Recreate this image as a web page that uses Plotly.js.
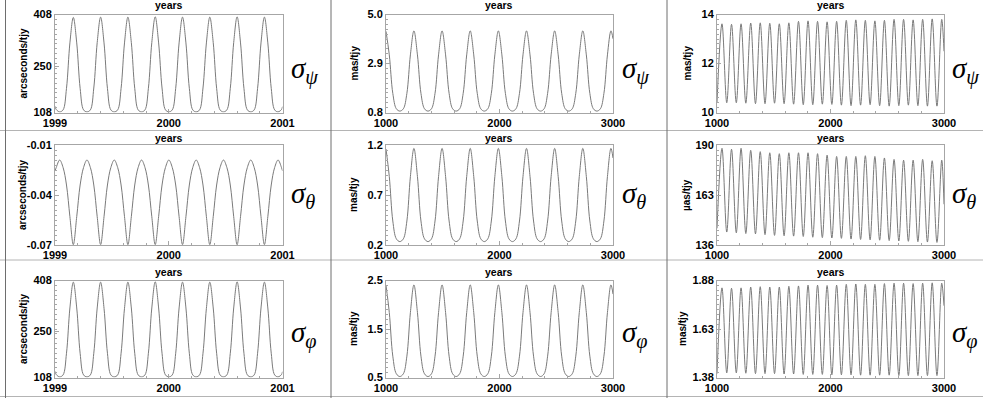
<!DOCTYPE html>
<html>
<head>
<meta charset="utf-8">
<script src="https://cdn.plot.ly/plotly-3.0.1.min.js"></script>
<style>
html,body{margin:0;padding:0;background:#fff;}
#chart{width:983px;height:398px;}
</style>
</head>
<body>
<div id="chart"></div>
<script>
// ---------- Left column: 1999 - 2001 ----------
const yearsL = [1999.000, 1999.011, 1999.041,
  1999.071, 1999.101, 1999.131, 1999.161, 1999.191, 1999.221, 1999.251, 1999.281,
  1999.311, 1999.341, 1999.371, 1999.401, 1999.431, 1999.461, 1999.491, 1999.521,
  1999.551, 1999.581, 1999.611, 1999.641, 1999.671, 1999.701, 1999.731, 1999.761,
  1999.791, 1999.821, 1999.851, 1999.881, 1999.911, 1999.941, 1999.971, 2000.001,
  2000.031, 2000.061, 2000.091, 2000.121, 2000.151, 2000.181, 2000.211, 2000.241,
  2000.271, 2000.301, 2000.331, 2000.361, 2000.391, 2000.421, 2000.451, 2000.481,
  2000.511, 2000.541, 2000.571, 2000.601, 2000.631, 2000.661, 2000.691, 2000.721,
  2000.751, 2000.781, 2000.811, 2000.841, 2000.871, 2000.901, 2000.931, 2000.961,
  2000.991, 2001.000];
const psiL = [127, 117, 110,
  116, 182, 321, 399, 321, 182, 116, 110,
  116, 183, 322, 400, 321, 182, 116, 110,
  116, 182, 321, 400, 322, 182, 116, 110,
  116, 182, 322, 401, 321, 183, 116, 110,
  116, 182, 321, 400, 321, 182, 116, 110,
  116, 183, 321, 400, 322, 182, 116, 110,
  116, 182, 322, 401, 321, 182, 116, 110,
  116, 182, 321, 400, 321, 182, 116, 110,
  117, 126];
const thetaL = [-0.0255, -0.0235, -0.0190,
  -0.0235, -0.0340, -0.0530, -0.0698, -0.0530, -0.0340, -0.0235, -0.0190,
  -0.0235, -0.0340, -0.0530, -0.0698, -0.0530, -0.0340, -0.0235, -0.0190,
  -0.0235, -0.0340, -0.0530, -0.0698, -0.0530, -0.0340, -0.0235, -0.0190,
  -0.0235, -0.0340, -0.0530, -0.0698, -0.0530, -0.0340, -0.0235, -0.0190,
  -0.0235, -0.0340, -0.0530, -0.0698, -0.0530, -0.0340, -0.0235, -0.0190,
  -0.0235, -0.0340, -0.0530, -0.0698, -0.0530, -0.0340, -0.0235, -0.0190,
  -0.0235, -0.0340, -0.0530, -0.0698, -0.0530, -0.0340, -0.0235, -0.0190,
  -0.0235, -0.0340, -0.0530, -0.0698, -0.0530, -0.0340, -0.0235, -0.0190,
  -0.0235, -0.0255];
const phiL = [127, 117, 110,
  116, 183, 323, 403, 323, 183, 116, 110,
  116, 183, 323, 403, 322, 183, 116, 110,
  116, 183, 322, 403, 323, 183, 116, 110,
  116, 183, 323, 404, 323, 183, 116, 110,
  116, 183, 323, 403, 323, 183, 116, 110,
  116, 183, 322, 403, 323, 183, 116, 110,
  116, 183, 323, 404, 323, 183, 116, 110,
  116, 183, 323, 403, 323, 183, 116, 110,
  117, 126];

// ---------- Middle column: 1000 - 3000 ----------
const yearsM = [1000,
  1029, 1060, 1091, 1122, 1153, 1184, 1215, 1246,
  1277, 1308, 1339, 1370, 1401, 1432, 1463, 1494,
  1525, 1556, 1587, 1618, 1649, 1680, 1711, 1742,
  1773, 1804, 1835, 1866, 1897, 1928, 1959, 1990,
  2021, 2052, 2083, 2114, 2145, 2176, 2207, 2238,
  2269, 2300, 2331, 2362, 2393, 2424, 2455, 2486,
  2517, 2548, 2579, 2610, 2641, 2672, 2703, 2734,
  2765, 2796, 2827, 2858, 2889, 2920, 2951, 2982,
  3000];
const psiM = [4.28,
  3.27, 1.62, 0.96, 0.86, 0.96, 1.62, 3.27, 4.30,
  3.27, 1.62, 0.96, 0.86, 0.96, 1.62, 3.27, 4.30,
  3.27, 1.62, 0.96, 0.86, 0.96, 1.62, 3.27, 4.30,
  3.27, 1.62, 0.96, 0.86, 0.96, 1.62, 3.27, 4.30,
  3.27, 1.62, 0.96, 0.86, 0.96, 1.62, 3.27, 4.30,
  3.27, 1.62, 0.96, 0.86, 0.96, 1.62, 3.27, 4.30,
  3.27, 1.62, 0.96, 0.86, 0.96, 1.62, 3.27, 4.30,
  3.27, 1.62, 0.96, 0.86, 0.96, 1.62, 3.27, 4.30,
  3.96];
const thetaM = [1.16,
  0.885, 0.440, 0.262, 0.234, 0.262, 0.440, 0.885, 1.166,
  0.885, 0.440, 0.262, 0.234, 0.262, 0.440, 0.885, 1.166,
  0.885, 0.440, 0.262, 0.234, 0.262, 0.440, 0.885, 1.166,
  0.885, 0.440, 0.262, 0.234, 0.262, 0.440, 0.885, 1.166,
  0.885, 0.440, 0.262, 0.234, 0.262, 0.440, 0.885, 1.166,
  0.885, 0.440, 0.262, 0.234, 0.262, 0.440, 0.885, 1.166,
  0.885, 0.440, 0.262, 0.234, 0.262, 0.440, 0.885, 1.166,
  0.885, 0.440, 0.262, 0.234, 0.262, 0.440, 0.885, 1.166,
  1.07];
const phiM = [2.40,
  1.84, 0.94, 0.577, 0.52, 0.577, 0.94, 1.84, 2.41,
  1.84, 0.94, 0.577, 0.52, 0.577, 0.94, 1.84, 2.41,
  1.84, 0.94, 0.577, 0.52, 0.577, 0.94, 1.84, 2.41,
  1.84, 0.94, 0.577, 0.52, 0.577, 0.94, 1.84, 2.41,
  1.84, 0.94, 0.577, 0.52, 0.577, 0.94, 1.84, 2.41,
  1.84, 0.94, 0.577, 0.52, 0.577, 0.94, 1.84, 2.41,
  1.84, 0.94, 0.577, 0.52, 0.577, 0.94, 1.84, 2.41,
  1.84, 0.94, 0.577, 0.52, 0.577, 0.94, 1.84, 2.41,
  2.22];

// ---------- Right column: 1000 - 3000 (peaks and troughs) ----------
const peakYearsR = [1044, 1128, 1212, 1297, 1381, 1465, 1549, 1633, 1718, 1802, 1886, 1970,
  2054, 2139, 2223, 2307, 2391, 2475, 2560, 2644, 2728, 2812, 2896, 2980];
const troughYearsR = [1086, 1170, 1254, 1339, 1423, 1507, 1591, 1675, 1760, 1844, 1928, 2012,
  2096, 2181, 2265, 2349, 2433, 2517, 2602, 2686, 2770, 2854, 2938];
const endYearsR = [1000, 3000];

const psiPeaksR = [13.62, 13.60, 13.62, 13.65, 13.66, 13.64, 13.62, 13.66, 13.72, 13.74, 13.72, 13.70,
  13.72, 13.76, 13.78, 13.76, 13.74, 13.76, 13.80, 13.80, 13.78, 13.80, 13.82, 13.80];
const psiTroughsR = [10.40, 10.40, 10.38, 10.36, 10.36, 10.38, 10.36, 10.34, 10.32, 10.32, 10.34, 10.33,
  10.30, 10.28, 10.30, 10.32, 10.28, 10.26, 10.28, 10.30, 10.28, 10.26, 10.26];
const psiEndsR = [10.40, 12.5];

const thetaPeaksR = [188.2, 187.7, 188.2, 187.1, 186.4, 185.8, 185.3, 185.8, 185.8, 185.8, 185.3, 184.5,
  183.8, 183.8, 183.8, 184.2, 183.8, 183.0, 182.2, 181.8, 181.8, 182.2, 181.5, 181.8];
const thetaTroughsR = [143.0, 142.6, 142.2, 142.0, 141.6, 141.2, 141.0, 140.8, 140.6, 140.2, 140.0, 139.8,
  139.6, 139.2, 139.0, 138.8, 138.6, 138.4, 138.2, 138.0, 137.8, 137.6, 137.4];
const thetaEndsR = [145, 158];

const phiPeaksR = [1.842, 1.840, 1.842, 1.846, 1.848, 1.846, 1.846, 1.850, 1.852, 1.856, 1.856, 1.854,
  1.856, 1.860, 1.862, 1.860, 1.860, 1.864, 1.866, 1.866, 1.864, 1.866, 1.868, 1.866];
const phiTroughsR = [1.404, 1.404, 1.402, 1.400, 1.400, 1.400, 1.398, 1.398, 1.396, 1.396, 1.396, 1.394,
  1.394, 1.394, 1.392, 1.392, 1.392, 1.392, 1.390, 1.390, 1.390, 1.390, 1.390];
const phiEndsR = [1.40, 1.75];

// ---------- Ticks and labels ----------
const xTicksL = [1999, 2000, 2001];
const xTicksMR = [1000, 2000, 3000];
const yTicks = [
  [108, 250, 408], [0.8, 2.9, 5.0], [10, 12, 14],
  [-0.07, -0.04, -0.01], [0.2, 0.7, 1.2], [136, 163, 190],
  [108, 250, 408], [0.5, 1.5, 2.5], [1.38, 1.63, 1.88]];
const yTickText = [
  ['108', '250', '408'], ['0.8', '2.9', '5.0'], ['10', '12', '14'],
  ['-0.07', '-0.04', '-0.01'], ['0.2', '0.7', '1.2'], ['136', '163', '190'],
  ['108', '250', '408'], ['0.5', '1.5', '2.5'], ['1.38', '1.63', '1.88']];
const yUnits = ['arcseconds/tjy', 'mas/tjy', 'mas/tjy',
  'arcseconds/tjy', 'mas/tjy', 'µas/tjy',
  'arcseconds/tjy', 'mas/tjy', 'mas/tjy'];
const xTitle = 'years';
const symbols = ['ψ', 'θ', 'φ'];

// ---------- build ----------
function mergeR(ends, peaks, troughs) {
  const pts = [[endYearsR[0], ends[0]], [endYearsR[1], ends[1]]];
  peakYearsR.forEach((t, i) => pts.push([t, peaks[i]]));
  troughYearsR.forEach((t, i) => pts.push([t, troughs[i]]));
  pts.sort((a, b) => a[0] - b[0]);
  return {x: pts.map(p => p[0]), y: pts.map(p => p[1])};
}
const rPsi = mergeR(psiEndsR, psiPeaksR, psiTroughsR);
const rTheta = mergeR(thetaEndsR, thetaPeaksR, thetaTroughsR);
const rPhi = mergeR(phiEndsR, phiPeaksR, phiTroughsR);

const series = [
  {x: yearsL, y: psiL}, {x: yearsM, y: psiM}, rPsi,
  {x: yearsL, y: thetaL}, {x: yearsM, y: thetaM}, rTheta,
  {x: yearsL, y: phiL}, {x: yearsM, y: phiM}, rPhi];

const W = 983, H = 398;
const colPx = [[55, 282.5], [386, 613], [717, 944]];
const rowPx = [[14.5, 112.5], [145, 245], [280.5, 377.5]];
const yMinor = [15, 0.21, 0.2, 0.003, 0.05, 2.7, 15, 0.1, 0.025];
const xMinor = [0.2, 200, 200];
const yTitleX = [23, 354, 687, 23, 354, 687, 23, 353, 682];
const sigmaX = [289, 620, 950];
const sigmaY = [70, 195, 334];
const yearsY = [5.5, 138, 271.5];

const tickFont = {family: 'Liberation Sans, Arial, sans-serif', size: 11, color: '#000', weight: 'bold'};
const traces = [];
const layout = {
  width: W, height: H,
  margin: {l: 0, r: 0, t: 0, b: 0},
  paper_bgcolor: '#fff', plot_bgcolor: '#fff',
  showlegend: false,
  annotations: [], shapes: []
};

for (let r = 0; r < 3; r++) {
  for (let c = 0; c < 3; c++) {
    const i = r * 3 + c;
    const n = i + 1;
    const xa = n === 1 ? 'x' : 'x' + n;
    const ya = n === 1 ? 'y' : 'y' + n;
    const s = series[i];
    traces.push({
      type: 'scatter', mode: 'lines', x: s.x, y: s.y,
      xaxis: xa, yaxis: ya,
      line: {color: '#7a7a7a', width: 1, shape: 'spline', smoothing: 1},
      hoverinfo: 'skip'
    });
    const xt = c === 0 ? xTicksL : xTicksMR;
    const yt = yTicks[i];
    const common = {
      showline: true, mirror: true, linecolor: '#a6a6a6', linewidth: 1,
      showgrid: false, zeroline: false,
      ticks: 'inside', ticklen: 4, tickcolor: '#a6a6a6', tickwidth: 1,
      tickfont: tickFont, fixedrange: true
    };
    layout['xaxis' + (n === 1 ? '' : n)] = Object.assign({}, common, {
      domain: [colPx[c][0] / W, colPx[c][1] / W],
      anchor: ya,
      range: [xt[0], xt[2]],
      tickmode: 'array', tickvals: xt, ticktext: xt.map(String),
      minor: {tickmode: 'linear', tick0: xt[0], dtick: xMinor[c], ticks: 'inside', ticklen: 2, tickcolor: '#a6a6a6'}
    });
    layout['yaxis' + (n === 1 ? '' : n)] = Object.assign({}, common, {
      domain: [1 - rowPx[r][1] / H, 1 - rowPx[r][0] / H],
      anchor: xa,
      range: [yt[0], yt[2]],
      tickmode: 'array', tickvals: yt, ticktext: yTickText[i],
      minor: {tickmode: 'linear', tick0: yt[0], dtick: yMinor[i], ticks: 'inside', ticklen: 2, tickcolor: '#a6a6a6'}
    });
    // "years" title above the plot
    layout.annotations.push({
      xref: 'paper', yref: 'paper',
      x: (colPx[c][0] + colPx[c][1]) / 2 / W, y: 1 - yearsY[r] / H,
      xanchor: 'center', yanchor: 'middle', showarrow: false,
      text: xTitle, font: {family: 'Liberation Sans, Arial, sans-serif', size: 10.5, color: '#000', weight: 'bold'}
    });
    // y units title
    layout.annotations.push({
      xref: 'paper', yref: 'paper',
      x: yTitleX[i] / W, y: 1 - (rowPx[r][0] + rowPx[r][1]) / 2 / H,
      xanchor: 'center', yanchor: 'middle', showarrow: false, textangle: -90,
      text: yUnits[i], font: {family: 'Liberation Sans, Arial, sans-serif', size: 10, color: '#000', weight: 'bold'}
    });
    // sigma label
    layout.annotations.push({
      xref: 'paper', yref: 'paper',
      x: sigmaX[c] / W, y: 1 - sigmaY[r] / H,
      xanchor: 'left', yanchor: 'middle', showarrow: false,
      text: '<i>σ<sub>' + symbols[r] + '</sub></i>',
      font: {family: 'Liberation Serif, Times New Roman, serif', size: 29, color: '#000'}
    });
  }
}

// table cell borders
const hLines = [130.5, 260, 396.5];
const vLines = [5.5, 331, 667];
hLines.forEach(y => layout.shapes.push({type: 'line', xref: 'paper', yref: 'paper',
  x0: 0, x1: 1, y0: 1 - y / H, y1: 1 - y / H, line: {color: '#b4b4b4', width: 1}}));
vLines.forEach(x => layout.shapes.push({type: 'line', xref: 'paper', yref: 'paper',
  x0: x / W, x1: x / W, y0: 0, y1: 1, line: {color: '#6e6e6e', width: 1}}));

Plotly.newPlot('chart', traces, layout, {staticPlot: true, displayModeBar: false});
</script>
</body>
</html>
